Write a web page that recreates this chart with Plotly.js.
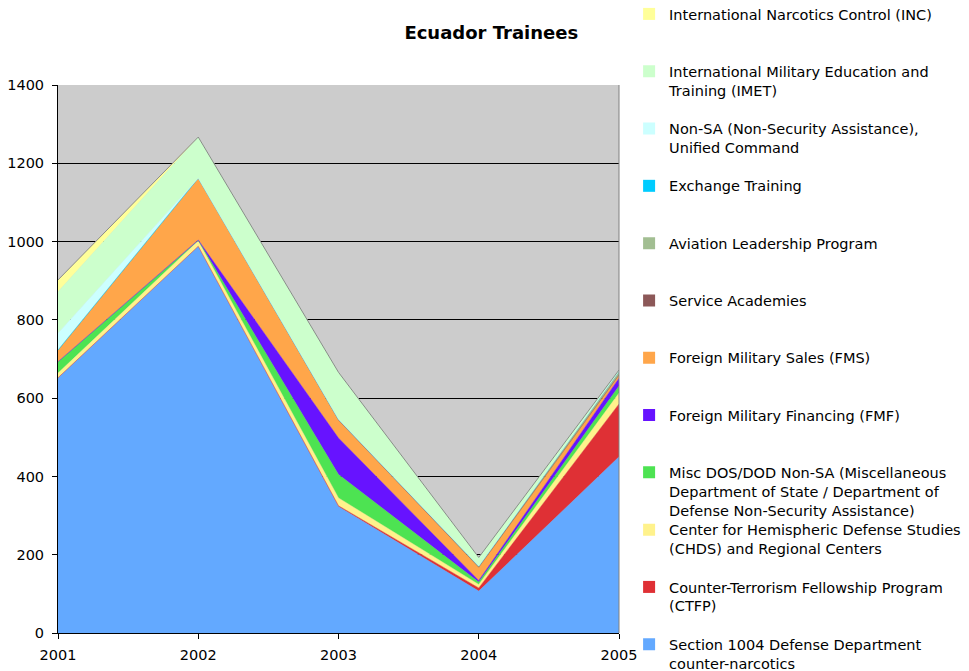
<!DOCTYPE html>
<html>
<head>
<meta charset="utf-8">
<script src="https://cdn.plot.ly/plotly-3.0.1.min.js"></script>
<style>
html,body{margin:0;padding:0;background:#fff;}
#chart{width:969px;height:671px;}
</style>
</head>
<body>
<div id="chart"></div>
<script>
// Fiscal years
var years = [2001, 2002, 2003, 2004, 2005];

// Trainee counts per program (stacked from bottom to top)
var section1004 = [652, 988, 323, 107, 450];
var ctfp        = [0, 0, 2, 8, 135];
var chds        = [12, 14, 20, 9, 28];
var miscNonSA   = [29, 1, 60, 6, 18];
var fmf         = [0, 1, 93, 4, 20];
var fms         = [30, 158, 45, 34, 7];
var academies   = [0, 0, 2, 0, 2];
var aviation    = [0, 0, 1, 3, 8];
var exchange    = [0, 0, 0, 0, 1];
var nonSA       = [43, 0, 0, 0, 0];
var imet        = [106, 105, 120, 22, 3];
var inc         = [30, 0, 0, 0, 0];

var seriesNames = [
  "Section 1004 Defense Department<br>counter-narcotics",
  "Counter-Terrorism Fellowship Program<br>(CTFP)",
  "Center for Hemispheric Defense Studies<br>(CHDS) and Regional Centers",
  "Misc DOS/DOD Non-SA (Miscellaneous<br>Department of State / Department of<br>Defense Non-Security Assistance)",
  "Foreign Military Financing (FMF)",
  "Foreign Military Sales (FMS)",
  "Service Academies",
  "Aviation Leadership Program",
  "Exchange Training",
  "Non-SA (Non-Security Assistance),<br>Unified Command",
  "International Military Education and<br>Training (IMET)",
  "International Narcotics Control (INC)"
];
var seriesValues = [section1004, ctfp, chds, miscNonSA, fmf, fms, academies, aviation, exchange, nonSA, imet, inc];
var seriesColors = ["#63A9FF", "#DF3035", "#FFF28C", "#4DE352", "#6713FF", "#FFA64A",
                    "#8C5858", "#A2BE92", "#00CCFF", "#CCFFFF", "#CCFFCC", "#FFFF99"];

var FONT = 'DejaVu Sans, Verdana, sans-serif';
var traces = [];
for (var i = 0; i < seriesValues.length; i++) {
  var isTop = (i === seriesValues.length - 1);
  traces.push({
    x: years, y: seriesValues[i], type: 'scatter', mode: 'lines',
    stackgroup: 'one', fillcolor: seriesColors[i],
    line: {color: isTop ? '#8a8a8a' : seriesColors[i], width: isTop ? 1 : 0.5},
    name: seriesNames[i].replace(/<br>/g, ' '),
    showlegend: false, hoverinfo: 'skip'
  });
}

var layout = {
  width: 969, height: 671,
  margin: {l: 58, r: 350, t: 85, b: 38, autoexpand: false},
  paper_bgcolor: '#ffffff', plot_bgcolor: '#CCCCCC',
  font: {family: FONT, size: 14, color: '#000'},
  title: {text: '<b>Ecuador Trainees</b>', font: {family: FONT, size: 18, color: '#000'},
          x: 0.507, xref: 'container', xanchor: 'center', y: 0.952, yref: 'container', yanchor: 'middle'},
  xaxis: {range: [2001, 2005], tickvals: years, ticktext: years.map(String),
          showgrid: false, zeroline: false, showline: true, linecolor: '#000', linewidth: 1,
          ticks: 'outside', ticklen: 5, tickcolor: '#000', ticklabelstandoff: 4,
          tickfont: {family: FONT, size: 14.5}},
  yaxis: {range: [0, 1400], dtick: 200, tick0: 0, showgrid: true, gridcolor: '#000', gridwidth: 1,
          zeroline: false, showline: true, linecolor: '#000', linewidth: 1,
          ticks: 'outside', ticklen: 5, tickcolor: '#000', ticklabelstandoff: 5,
          tickfont: {family: FONT, size: 14.5}},
  shapes: [{type: 'line', xref: 'paper', yref: 'paper', x0: 1, x1: 1, y0: 0, y1: 1,
            line: {color: '#808080', width: 1}}],
  showlegend: true
};

// Legend: one legend box per entry (top to bottom = INC ... Section 1004), evenly spaced
var plotTop = 85, plotH = 548, firstLine = 14, spacing = 57.3, lineOffset = 16;
for (var j = seriesValues.length - 1; j >= 0; j--) {
  var pos = seriesValues.length - 1 - j; // 0..11
  var key = pos === 0 ? 'legend' : 'legend' + (pos + 1);
  traces.push({
    x: [null], y: [null], type: 'scatter', mode: 'markers',
    marker: {symbol: 'square', size: 12, color: seriesColors[j], line: {width: 0}},
    name: seriesNames[j], legend: key, hoverinfo: 'skip'
  });
  var topPx = firstLine + pos * spacing - lineOffset;
  layout[key] = {
    xref: 'paper', yref: 'paper', x: 1.018, xanchor: 'left',
    y: (plotTop + plotH - topPx) / plotH, yanchor: 'top',
    bgcolor: 'rgba(0,0,0,0)', borderwidth: 0, valign: 'top',
    font: {family: FONT, size: 14.5, color: '#000'},
    itemclick: false, itemdoubleclick: false
  };
}
Plotly.newPlot('chart', traces, layout, {displayModeBar: false, staticPlot: true});
</script>
</body>
</html>
